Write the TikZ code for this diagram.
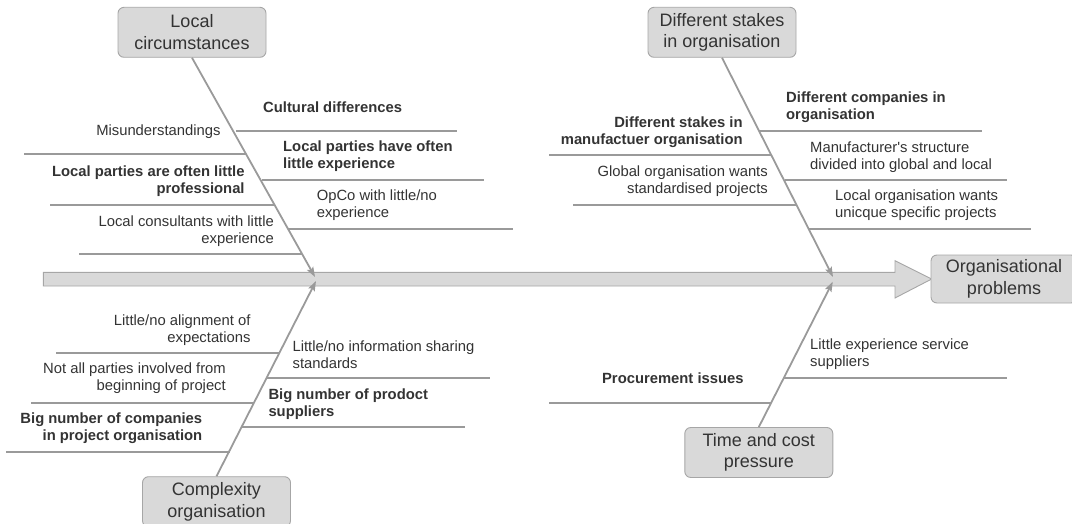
\documentclass[tikz,border=0pt]{standalone}
\usepackage{fontspec}
\setmainfont{Liberation Sans}
\usetikzlibrary{arrows.meta}
\definecolor{boxfill}{HTML}{D9D9D9}
\definecolor{boxline}{HTML}{A6A6A6}
\definecolor{boneline}{HTML}{9A9A9A}
\definecolor{txt}{HTML}{333333}
\begin{document}
\begin{tikzpicture}[x=1pt,y=-1pt,
  cause/.style={draw=boxline,fill=boxfill,rounded corners=6pt,line width=0.9pt,
    minimum width=148pt,minimum height=50pt,inner sep=0pt,align=center,text=txt,
    font=\fontsize{18}{21.5}\selectfont},
  bone/.style={draw=boneline,line width=1.8pt,-{Stealth[length=10pt,width=7pt,inset=2pt]}},
  rib/.style={draw=boneline,line width=1.8pt},
  lbl/.style={inner sep=0pt,text=txt,font=\fontsize{14.8}{17}\selectfont},
  lblb/.style={lbl,font=\fontsize{14.8}{17}\selectfont\bfseries},
  leftlbl/.style={anchor=east,align=right},
  rightlbl/.style={anchor=west,align=left}]
\useasboundingbox (0,0) rectangle (1072,524);
\clip (0,0) rectangle (1072,524);

% main spine arrow
\draw[boxline,fill=boxfill,line width=0.9pt]
  (43.3,272.3) -- (895,272.3) -- (895,260.7) -- (931.7,279) -- (895,298)
  -- (895,286) -- (43.3,286) -- cycle;
\node[cause,minimum width=146pt,minimum height=48pt] (op) at (1004,279) {Organisational\\problems};

% cause boxes
\node[cause] (lc) at (192,32.3) {Local\\circumstances};
\node[cause] (ds) at (722,32.3) {Different stakes\\in organisation};
\node[cause] (co) at (216.5,501.7) {Complexity\\organisation};
\node[cause] (tc) at (758.8,452.5) {Time and cost\\pressure};

% bone tips on the spine
\coordinate (tipA) at (315,277);
\coordinate (tipB) at (833,277);
\coordinate (tipC) at (316,281);
\coordinate (tipD) at (832.8,281.7);

% ribs
\draw[rib] (236,130.7) -- (457,130.7);
\draw[rib] (262,180) -- (484,180);
\draw[rib] (288,229.3) -- (512.7,229.3);
\draw[rib] (24,154.3) -- (246,154.3);
\draw[rib] (50,205) -- (274,205);
\draw[rib] (79,254.3) -- (302,254.3);

\draw[rib] (759,130.7) -- (981.7,130.7);
\draw[rib] (784.5,180.3) -- (1007,180.3);
\draw[rib] (809,229.3) -- (1031,229.3);
\draw[rib] (549,155) -- (771.5,155);
\draw[rib] (573,205) -- (796,205);

\draw[rib] (56,353.3) -- (279,353.3);
\draw[rib] (31,403.3) -- (254,403.3);
\draw[rib] (6,452.3) -- (229.5,452.3);
\draw[rib] (267,377.7) -- (489.7,377.7);
\draw[rib] (242,427.3) -- (464.8,427.3);

\draw[rib] (784,377.7) -- (1007,377.7);
\draw[rib] (549,402.7) -- (771,402.7);

% bones
\draw[bone] (lc.south) -- (tipA);
\draw[bone] (ds.south) -- (tipB);
\draw[bone] (co.north) -- (tipC);
\draw[bone] (tc.north) -- (tipD);

% labels: local circumstances
\node[lblb,rightlbl] (a1) at (263,107) {Cultural differences};
\node[lblb,rightlbl] (a2) at (283,156.5) {Local parties have often\\little experience};
\node[lbl,rightlbl] (a3) at (316.6,205) {OpCo with little/no\\experience};
\node[lbl,leftlbl] (a4) at (220.7,132) {Misunderstandings};
\node[lblb,leftlbl] (a5) at (244.8,181.5) {Local parties are often little\\professional};
\node[lbl,leftlbl] (a6) at (274,231) {Local consultants with little\\experience};

% labels: different stakes
\node[lblb,rightlbl] (b1) at (786,107.4) {Different companies in\\organisation};
\node[lbl,rightlbl] (b2) at (810,157) {Manufacturer\textquotesingle s structure\\divided into global and local};
\node[lbl,rightlbl] (b3) at (835,205.5) {Local organisation wants\\unicque specific projects};
\node[lblb,leftlbl] (b4) at (742.8,132) {Different stakes in\\manufactuer organisation};
\node[lbl,leftlbl] (b5) at (768,181.5) {Global organisation wants\\standardised projects};

% labels: complexity
\node[lbl,leftlbl] (c1) at (250.7,329.7) {Little/no alignment of\\expectations};
\node[lbl,leftlbl] (c2) at (226,378.3) {Not all parties involved from\\beginning of project};
\node[lblb,leftlbl] (c3) at (202.4,428.7) {Big number of companies\\in project organisation};
\node[lbl,rightlbl] (c4) at (292.4,354.3) {Little/no information sharing\\standards};
\node[lblb,rightlbl] (c5) at (268.3,403.8) {Big number of prodoct\\suppliers};

% labels: time and cost
\node[lbl,rightlbl] (d1) at (810,354.2) {Little experience service\\suppliers};
\node[lblb,leftlbl] (d2) at (743.8,378.3) {Procurement issues};
\end{tikzpicture}
\end{document}
